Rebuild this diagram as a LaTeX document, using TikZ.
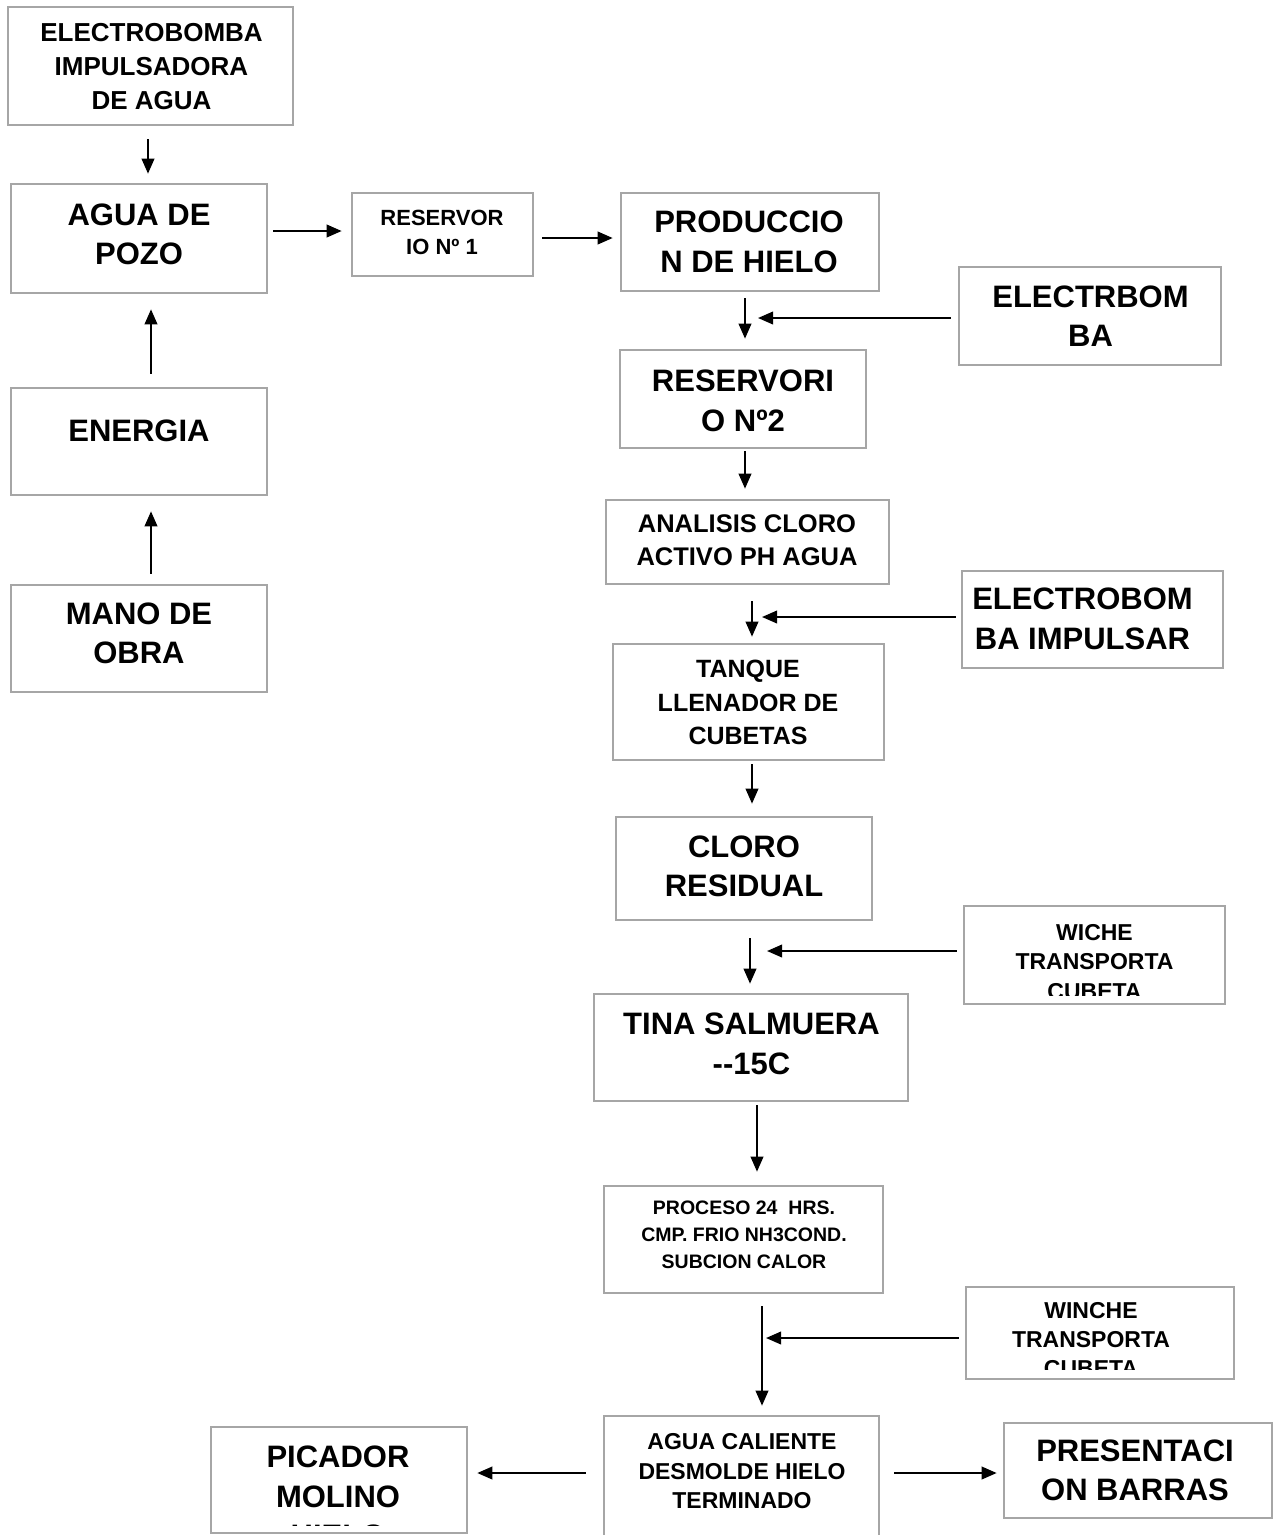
\documentclass[tikz,border=0pt]{standalone}
\usepackage{fontspec}
\setmainfont{Liberation Sans}
\usetikzlibrary{arrows.meta,calc}
\definecolor{bordergray}{HTML}{A6A6A6}
\begin{document}
\begin{tikzpicture}[x=1pt,y=-1pt,
  box/.style={draw=bordergray, line width=2.6pt, rectangle, inner sep=0pt},
  txt/.style={align=center, inner sep=0pt},
  sz/.style 2 args={font=\bfseries\fontsize{#1}{#2}\selectfont},
  arr/.style={line width=2.1pt, -{Triangle[length=15pt,width=12.5pt]}}]
\clip (0,0) rectangle (1275,1535);
\fill[white] (0,0) rectangle (1275,1535);

% boxes
\node[box, minimum width=285pt, minimum height=118pt] (e1) at (150.5,66) {};
\node[box, minimum width=256pt, minimum height=109pt] (pozo) at (139,238.5) {};
\node[box, minimum width=181pt, minimum height=83pt] (res1) at (442.5,234.5) {};
\node[box, minimum width=258pt, minimum height=98pt] (prod) at (750,242) {};
\node[box, minimum width=262pt, minimum height=98pt] (eb2) at (1090,316) {};
\node[box, minimum width=246pt, minimum height=98pt] (res2) at (743,399) {};
\node[box, minimum width=283pt, minimum height=84pt] (anal) at (747.5,542) {};
\node[box, minimum width=261pt, minimum height=97pt] (eb3) at (1092.5,619.5) {};
\node[box, minimum width=271pt, minimum height=116pt] (tanq) at (748.5,702) {};
\node[box, minimum width=256pt, minimum height=103pt] (clor) at (744,868.5) {};
\node[box, minimum width=261pt, minimum height=98pt] (wich) at (1094.5,955) {};
\node[box, minimum width=314pt, minimum height=107pt] (tina) at (751,1047.5) {};
\node[box, minimum width=279pt, minimum height=107pt] (proc) at (743.5,1239.5) {};
\node[box, minimum width=268pt, minimum height=92pt] (winc) at (1100,1333) {};
\node[box, minimum width=275pt, minimum height=140pt] (agca) at (741.5,1486) {};
\node[box, minimum width=268pt, minimum height=95pt] (pres) at (1138,1470.5) {};
\node[box, minimum width=256pt, minimum height=106pt] (pica) at (339,1480) {};
\node[box, minimum width=256pt, minimum height=107pt] (ener) at (139,441.5) {};
\node[box, minimum width=256pt, minimum height=107pt] (mano) at (139,638.5) {};

% texts
\node[txt, sz={26}{34}] (e1t) at (151.5,66.5) {ELECTROBOMBA\\IMPULSADORA\\DE AGUA};
\node[txt, sz={31}{39.5}] (pozot) at (139,234.5) {AGUA DE\\POZO};
\node[txt, sz={22}{29}] (res1t) at (442,232.5) {RESERVOR\\IO Nº 1};
\node[txt, sz={31}{39.5}] (prodt) at (749,242) {PRODUCCIO\\N DE HIELO};
\node[txt, sz={31}{39.5}] (eb2t) at (1090.5,316) {ELECTRBOM\\BA};
\node[txt, sz={31}{39.5}] (res2t) at (743,401) {RESERVORI\\O Nº2};
\node[txt, sz={25.5}{33}] (analt) at (747,540.5) {ANALISIS CLORO\\ACTIVO PH AGUA};
\node[txt, sz={31}{39.5}] (eb3t) at (1082.5,619) {ELECTROBOM\\BA IMPULSAR};
\node[txt, sz={25}{33.5}] (tanqt) at (748,702.5) {TANQUE\\LLENADOR DE\\CUBETAS};
\node[txt, sz={31}{39.5}] (clort) at (744,866.5) {CLORO\\RESIDUAL};
\begin{scope}
\clip (964,906) rectangle (1225,995.5);
\node[txt, sz={23}{29.5}] (wicht) at (1094.5,962) {WICHE\\TRANSPORTA\\CUBETA};
\end{scope}
\node[txt, sz={31}{39.5}] (tinat) at (751.5,1044) {TINA SALMUERA\\-{}-15C};
\node[txt, sz={19.5}{27}] (proct) at (744,1235) {PROCESO 24\ \ HRS.\\CMP. FRIO NH3COND.\\SUBCION CALOR};
\begin{scope}
\clip (966,1287) rectangle (1234,1369.5);
\node[txt, sz={23}{29}] (winct) at (1091,1339.5) {WINCHE\\TRANSPORTA\\CUBETA};
\end{scope}
\node[txt, sz={23}{29.5}] (agcat) at (742,1471.5) {AGUA CALIENTE\\DESMOLDE HIELO\\TERMINADO};
\node[txt, sz={31}{39.5}] (prest) at (1135,1470.5) {PRESENTACI\\ON BARRAS};
\begin{scope}
\clip (211,1427) rectangle (467,1525.5);
\node[txt, sz={31}{39.5}] (picat) at (338,1496.5) {PICADOR\\MOLINO\\HIELO};
\end{scope}
\node[txt, sz={31}{39.5}] (enert) at (139,431) {ENERGIA};
\node[txt, sz={31}{39.5}] (manot) at (139,633.5) {MANO DE\\OBRA};

% junction coordinates
\coordinate (j1) at (758,318);
\coordinate (j2) at (762,617);
\coordinate (j3) at (767,951);
\coordinate (j4) at (766,1338);

% arrows
\draw[arr] ($(e1.south)+(-2.5,13)$) -- ($(pozo.north)+(9,-9)$);
\draw[arr] ($(mano.north)+(12,-10)$) -- ($(ener.south)+(12,15)$);
\draw[arr] ($(ener.north)+(12,-13)$) -- ($(pozo.south)+(12,15)$);
\draw[arr] ($(pozo.east)+(5,-7.5)$) -- ($(res1.west)+(-9,-3.5)$);
\draw[arr] ($(res1.east)+(8,3.5)$) -- ($(prod.west)+(-7,-4)$);
\draw[arr] ($(prod.south)+(-5,6)$) -- ($(res2.north)+(2,-10)$);
\draw[arr] ($(eb2.west)+(-7,2)$) -- (j1);
\draw[arr] ($(res2.south)+(2,2)$) -- ($(anal.north)+(-2.5,-10)$);
\draw[arr] ($(anal.south)+(4.5,16)$) -- ($(tanq.north)+(3.5,-6)$);
\draw[arr] ($(eb3.west)+(-5,-2.5)$) -- (j2);
\draw[arr] ($(tanq.south)+(3.5,3)$) -- ($(clor.north)+(8,-12)$);
\draw[arr] ($(clor.south)+(6,17)$) -- ($(tina.north)+(-1,-9)$);
\draw[arr] ($(wich.west)+(-6,-4)$) -- (j3);
\draw[arr] ($(tina.south)+(6,3)$) -- ($(proc.north)+(13.5,-13)$);
\draw[arr] ($(proc.south)+(18.5,12)$) -- ($(agca.north)+(20.5,-9)$);
\draw[arr] ($(winc.west)+(-6,5)$) -- (j4);
\draw[arr] ($(agca.west)+(-17,-13)$) -- ($(pica.east)+(9,-7)$);
\draw[arr] ($(agca.east)+(14,-13)$) -- ($(pres.west)+(-6,2.5)$);
\end{tikzpicture}
\end{document}
